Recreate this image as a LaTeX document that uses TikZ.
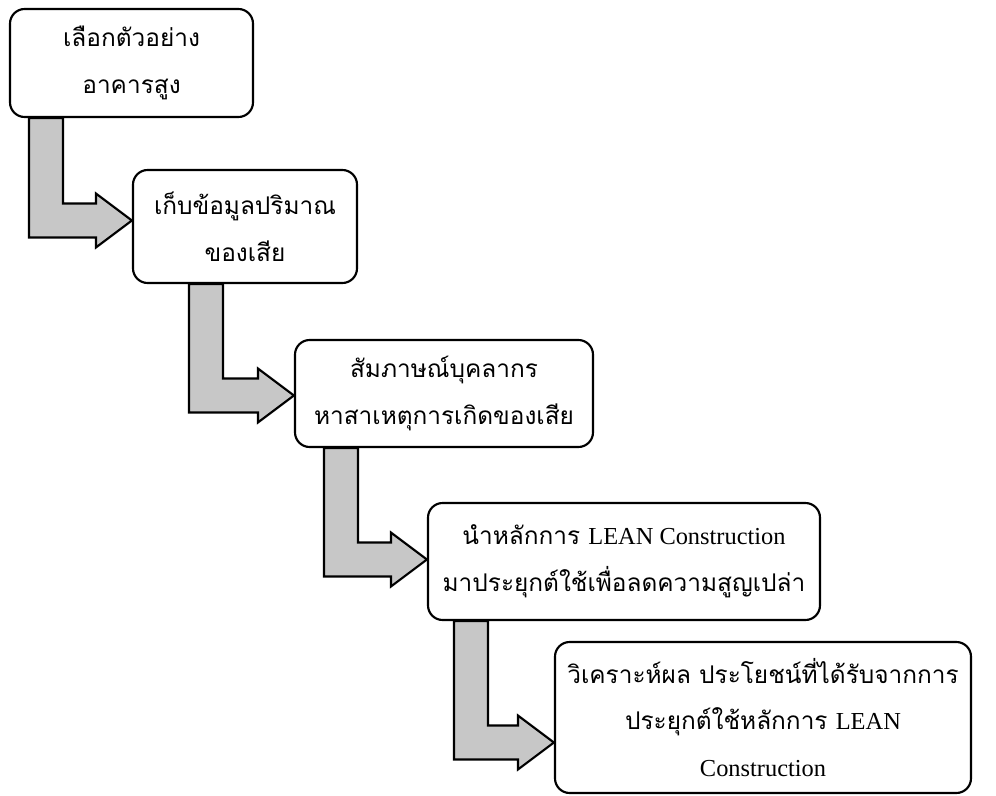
\documentclass[tikz,border=0pt]{standalone}
\usepackage{fontspec}
\setmainfont{Liberation Serif}
\newfontfamily\thaifont[Script=Thai]{Loma}
\usetikzlibrary{calc}
\newcommand{\lat}[1]{{\rmfamily #1}}
% L-shaped block arrow: from, to, bar offset, tip shift
\newcommand{\steparrow}[4]{%
  \draw[blockarrow] ($(#2.west)+(0,#4)$) -- ++(-36,-27) -- ++(0,10)
    -| ($(#1.south west)+(#3+34,0)$) -- ($(#1.south west)+(#3,0)$)
    |- ($(#2.west)+(-36,#4+17)$) -- ++(0,10) -- cycle;}
\begin{document}
\begin{tikzpicture}
    [x=0.75pt,y=-0.75pt,
      every node/.style={draw,rectangle,rounded corners=11pt,line width=1.6pt,
        fill=white,inner sep=0pt,align=center,
        font=\thaifont\fontsize{18.3}{35}\selectfont},
      blockarrow/.style={draw,line width=1.6pt,fill=black!22}]
    \useasboundingbox (0,0) rectangle (996,796);
    \node[minimum width=182.25pt,minimum height=81pt] (select) at (131.5,63)
      {เลือกตัวอย่าง\\อาคารสูง};
    \node[minimum width=168pt,minimum height=84.75pt] (collect) at (245,226.5)
      {เก็บข้อมูลปริมาณ\\ของเสีย};
    \node[minimum width=223.5pt,minimum height=80.25pt] (interview) at (444,393.5)
      {สัมภาษณ์บุคลากร\\หาสาเหตุการเกิดของเสีย};
    \node[minimum width=294pt,minimum height=87.75pt] (apply) at (624,561.5)
      {นำหลักการ \lat{LEAN Construction}\\มาประยุกต์ใช้เพื่อลดความสูญเปล่า};
    \node[minimum width=312pt,minimum height=113.25pt] (analyse) at (763,717.5)
      {วิเคราะห์ผล ประโยชน์ที่ได้รับจากการ\\ประยุกต์ใช้หลักการ \lat{LEAN}\\\lat{Construction}};
    \steparrow{select}{collect}{20}{-6}
    \steparrow{collect}{interview}{57}{2}
    \steparrow{interview}{apply}{30}{-2}
    \steparrow{apply}{analyse}{27}{25}
  \end{tikzpicture}
\end{document}
